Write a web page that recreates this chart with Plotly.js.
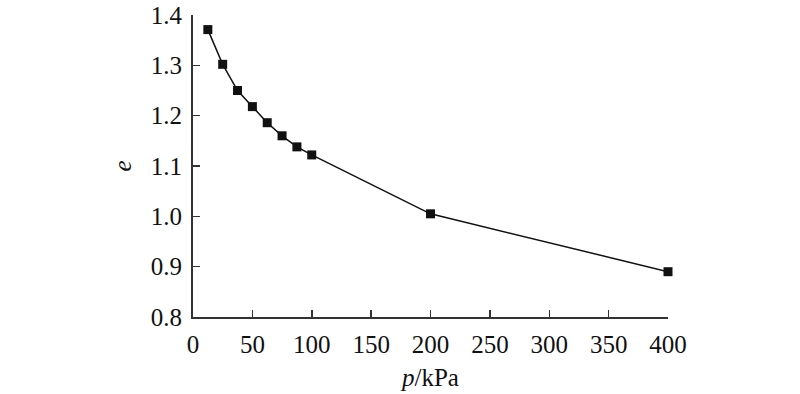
<!DOCTYPE html>
<html><head><meta charset="utf-8">
<script src="https://cdn.plot.ly/plotly-3.0.1.min.js"></script>
<style>body{margin:0;background:#fff}#c{width:800px;height:394px}</style>
</head><body><div id="c"></div>
<script>
const pressure = [12.5, 25, 37.5, 50, 62.5, 75, 87.5, 100, 200, 400];
const voidRatio = [1.371, 1.302, 1.250, 1.218, 1.186, 1.160, 1.138, 1.122, 1.005, 0.890];
const xTicks = [0, 50, 100, 150, 200, 250, 300, 350, 400];
const yTicks = [0.8, 0.9, 1.0, 1.1, 1.2, 1.3, 1.4];

const font = {family: '"Liberation Serif", "Times New Roman", Times, serif', size: 25, color: '#111'};
const axisCommon = {
  showgrid: false, zeroline: false, showline: true, linecolor: '#333', linewidth: 2,
  ticks: 'inside', ticklen: 7, tickwidth: 1.5, tickcolor: '#333', tickfont: font
};
Plotly.newPlot('c', [{
  x: pressure, y: voidRatio, type: 'scatter', mode: 'lines+markers',
  line: {color: '#111', width: 1.5},
  marker: {symbol: 'square', size: 9, color: '#111'},
  cliponaxis: false
}], {
  width: 800, height: 394,
  margin: {l: 192.5, r: 131.7, t: 15.3, b: 77.3},
  paper_bgcolor: '#fff', plot_bgcolor: '#fff', showlegend: false,
  font: font,
  xaxis: Object.assign({}, axisCommon, {range: [0, 400], tickvals: xTicks,
    ticklabelstandoff: 4,
    title: {text: '<i>p</i>/kPa', font: font, standoff: 11}}),
  yaxis: Object.assign({}, axisCommon, {range: [0.8, 1.4], tickvals: yTicks, tickformat: '.1f',
    ticklabelstandoff: 4,
    title: {text: '<i>e</i>', font: font, standoff: 12}})
}, {displayModeBar: false, staticPlot: true});
</script></body></html>
